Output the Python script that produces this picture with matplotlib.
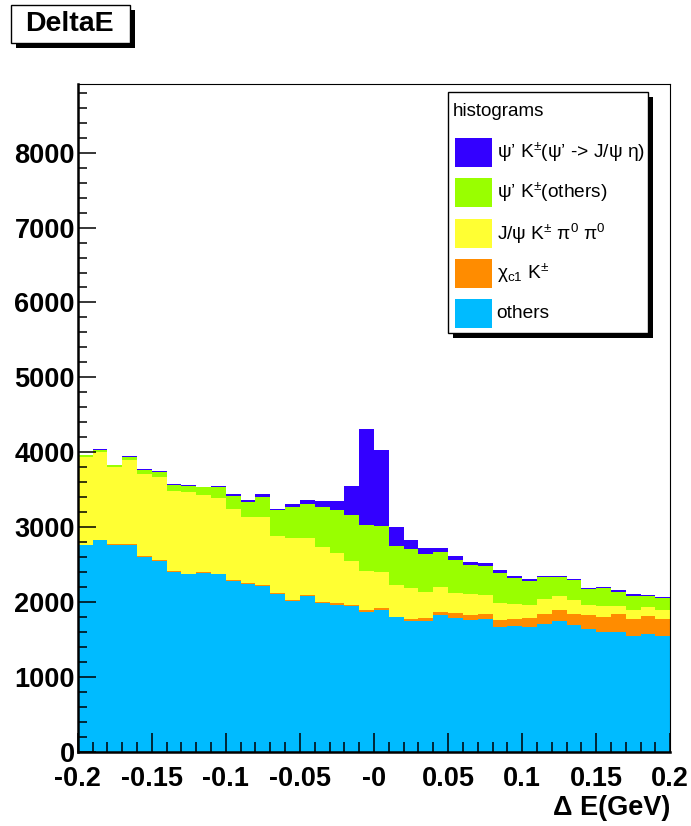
import numpy as np
import matplotlib
matplotlib.use("Agg")
import matplotlib.pyplot as plt
from matplotlib.patches import Rectangle
from matplotlib.ticker import MultipleLocator, FixedLocator, FixedFormatter

plt.rcParams['font.family'] = ['Liberation Sans', 'DejaVu Sans']
plt.rcParams['mathtext.fontset'] = 'custom'
plt.rcParams['mathtext.rm'] = 'Liberation Sans'
plt.rcParams['mathtext.it'] = 'Liberation Sans:italic'
plt.rcParams['mathtext.bf'] = 'Liberation Sans:bold'

# ---- data (40 bins of 0.01 GeV from -0.2 to 0.2) ----
edges = np.linspace(-0.2, 0.2, 41)
others = [2764, 2831, 2764, 2764, 2604, 2551, 2404, 2377, 2391, 2377,
          2285, 2242, 2219, 2108, 2015, 2086, 1984, 1966, 1952, 1863,
          1894, 1797, 1751, 1747, 1828, 1792, 1761, 1774, 1671, 1681,
          1671, 1707, 1751, 1694, 1640, 1600, 1596, 1547, 1578, 1551]
chic1_k = [0, 0, 6, 6, 13, 13, 6, 3, 4, 3,
           5, 8, 11, 7, 5, 9, 11, 14, 13, 27,
           31, 8, 23, 40, 44, 58, 71, 71, 90, 89,
           112, 134, 143, 147, 187, 201, 241, 227, 240, 223]
jpsi_k_pi0pi0 = [1178, 1173, 1039, 1132, 1094, 1111, 1074, 1082, 1027, 1015,
                 954, 888, 908, 769, 828, 762, 742, 676, 584, 526,
                 475, 424, 419, 352, 334, 276, 272, 246, 231, 209,
                 178, 200, 188, 187, 134, 151, 111, 120, 112, 120]
psip_k_others = [22, 27, 16, 36, 53, 62, 76, 89, 111, 134,
                 174, 191, 263, 338, 419, 454, 534, 575, 615, 615,
                 620, 521, 513, 504, 464, 437, 392, 392, 393, 347,
                 319, 290, 249, 267, 214, 232, 191, 192, 152, 156]
psip_k_jpsieta = [5, 9, 10, 7, 6, 8, 10, 9, 7, 22,
                  25, 36, 35, 23, 44, 54, 71, 111, 379, 1279,
                  1004, 250, 115, 76, 57, 53, 40, 44, 40, 23,
                  23, 22, 18, 18, 18, 14, 19, 22, 17, 18]

layers = [others, chic1_k, jpsi_k_pi0pi0, psip_k_others, psip_k_jpsieta]
colors = ['#00bbff', '#ff8c00', '#ffff33', '#99ff00', '#3300ff']
labels = [r"others", r"χ$_{\rm c1}$ K$^{\pm}$", r"J/ψ K$^{\pm}$ π$^{0}$ π$^{0}$",
          r"ψ’ K$^{\pm}$(others)", r"ψ’ K$^{\pm}$(ψ’ -> J/ψ η)"]

xticks = [-0.2, -0.15, -0.1, -0.05, 0.0, 0.05, 0.1, 0.15, 0.2]
xticklabels = ["-0.2", "-0.15", "-0.1", "-0.05", "-0", "0.05", "0.1", "0.15", "0.2"]
yticks = [0, 1000, 2000, 3000, 4000, 5000, 6000, 7000, 8000]
yticklabels = ["0", "1000", "2000", "3000", "4000", "5000", "6000", "7000", "8000"]

W, H = 691, 826
fig = plt.figure(figsize=(W / 100, H / 100), dpi=100)

def fx(x):
    return x / W

def fy(y):
    return 1 - y / H

x0, x1, ytop, ybot = 77.7, 670.3, 84, 751.7
ax = fig.add_axes([fx(x0), fy(ybot), fx(x1 - x0), (ybot - ytop) / H])

bottom = np.zeros(40)
for vals, c in zip(layers, colors):
    v = np.asarray(vals, dtype=float)
    ax.stairs(bottom + v, edges, baseline=bottom, fill=True, color=c, lw=0)
    bottom = bottom + v

ax.set_xlim(-0.2, 0.2)
ax.set_ylim(0, 8918)

ax.xaxis.set_major_locator(FixedLocator(xticks))
ax.xaxis.set_major_formatter(FixedFormatter(xticklabels))
ax.xaxis.set_minor_locator(MultipleLocator(0.01))
ax.yaxis.set_major_locator(FixedLocator(yticks))
ax.yaxis.set_major_formatter(FixedFormatter(yticklabels))
ax.yaxis.set_minor_locator(MultipleLocator(200))

ax.tick_params(axis='x', which='major', direction='in', length=13.5, width=1.1,
               pad=10, labelsize=19.5)
ax.tick_params(axis='x', which='minor', direction='in', length=7, width=1.1)
ax.tick_params(axis='y', which='major', direction='in', length=12.7, width=1.1,
               pad=2, labelsize=19.5)
ax.tick_params(axis='y', which='minor', direction='in', length=6.4, width=1.1)
for lab in ax.get_xticklabels() + ax.get_yticklabels():
    lab.set_fontweight('bold')

ax.spines['left'].set_linewidth(1.8)
ax.spines['bottom'].set_linewidth(1.8)
ax.spines['top'].set_linewidth(0.8)
ax.spines['right'].set_linewidth(0.8)
ax.set_axisbelow(False)

fig.text(fx(670), fy(808), "Δ E(GeV)", ha='right', va='center',
         fontsize=19.5, fontweight='bold')

# ---- title box ----
fig.patches.append(Rectangle((fx(16), fy(47.7)), fx(119), (42.7 - 5) / H,
                             transform=fig.transFigure, facecolor='black',
                             edgecolor='black', lw=0, zorder=1))
fig.patches.append(Rectangle((fx(11), fy(42.7)), fx(119), (42.7 - 5) / H,
                             transform=fig.transFigure, facecolor='white',
                             edgecolor='black', lw=1, zorder=2))
fig.text(fx(69.5), fy(24), "DeltaE", ha='center', va='center',
         fontsize=20.5, fontweight='bold', zorder=3)

# ---- legend ----
lx0, lx1, ly0, ly1 = 448.3, 648.3, 91.7, 333
fig.patches.append(Rectangle((fx(lx0 + 5), fy(ly1 + 5)), fx(lx1 - lx0), (ly1 - ly0) / H,
                             transform=fig.transFigure, facecolor='black',
                             edgecolor='black', lw=0, zorder=5))
fig.patches.append(Rectangle((fx(lx0), fy(ly1)), fx(lx1 - lx0), (ly1 - ly0) / H,
                             transform=fig.transFigure, facecolor='white',
                             edgecolor='black', lw=1, zorder=6))
fig.text(fx(453), fy(111), "histograms", ha='left', va='center',
         fontsize=13.5, zorder=7)
row_tops = [137.7, 178, 219, 259, 299]
for i, (c, lab) in enumerate(zip(colors[::-1], labels[::-1])):
    t = row_tops[i]
    fig.patches.append(Rectangle((fx(455), fy(t + 29)), fx(37), 29 / H,
                                 transform=fig.transFigure, facecolor=c,
                                 edgecolor='none', lw=0, zorder=7))
    fig.text(fx(496.7), fy(t + 14.5), lab, ha='left', va='center',
             fontsize=13.8, zorder=8)

fig.savefig("out.png", dpi=100)
